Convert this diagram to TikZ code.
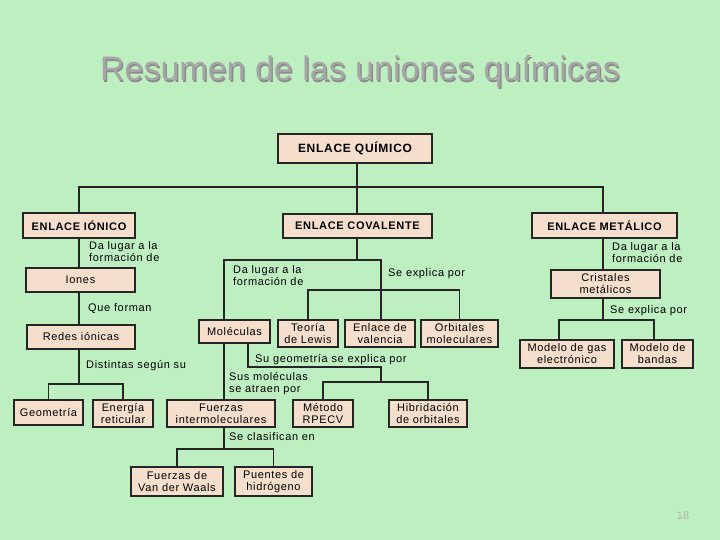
\documentclass[tikz,border=0pt]{standalone}
\usepackage{fontspec}
\setmainfont{Liberation Sans}
\newfontfamily\spc[LetterSpace=6]{Liberation Sans}
\begin{document}
\begin{tikzpicture}[x=1pt,y=-1pt,
  bx/.style={draw=black!85,line width=1.3pt,fill=boxc,inner sep=0pt,align=center,font=\spc\fontsize{11}{12}\selectfont},
  hd/.style={bx,font=\spc\bfseries\fontsize{11}{12}\selectfont},
  lb/.style={anchor=north west,inner sep=0pt,align=left,font=\spc\fontsize{11}{12}\selectfont},
  ln/.style={line width=1.3pt,draw=black!85}]
\definecolor{bg}{HTML}{BEEFC0}
\definecolor{boxc}{HTML}{F5DFCC}
\fill[bg] (0,0) rectangle (720,540);
\useasboundingbox (0,0) rectangle (720,540);
\node[text=black!45,font=\fontsize{34}{36}\selectfont] (tshadow) at (361.3,73.3) {Resumen de las uniones químicas};
\node[text=gray!70,font=\fontsize{34}{36}\selectfont] (title) at (360,72) {Resumen de las uniones químicas};
\newcommand\bxat[6]{\node[#1,minimum width=#4,minimum height=#5] (#2) at (#3) {#6};}
\bxat{bx}{q}{355,148.5}{154}{29}{\spc\bfseries\fontsize{12}{13}\selectfont ENLACE QUÍMICO}
\bxat{hd}{ion}{79,225.5}{112}{25}{ENLACE IÓNICO}
\bxat{hd}{cov}{357.5,226}{149}{24}{ENLACE COVALENTE}
\bxat{hd}{met}{604.5,225.5}{145}{25}{ENLACE METÁLICO}
\bxat{bx}{ionesb}{80.5,280}{109}{24}{Iones}
\bxat{bx}{redes}{81,337}{108}{24}{Redes iónicas}
\bxat{bx}{geo}{48.5,412.5}{69}{25}{Geometría}
\bxat{bx}{ener}{123,413.5}{60}{27}{Energía\\reticular}
\bxat{bx}{mol}{234.5,331.5}{71}{23}{Moléculas}
\bxat{bx}{lewis}{308,333.5}{60}{27}{Teoría\\de Lewis}
\bxat{bx}{val}{380,333.5}{70}{27}{Enlace de\\valencia}
\bxat{bx}{orb}{459.5,333.5}{77}{27}{Orbitales\\moleculares}
\bxat{bx}{fint}{221,413.5}{108}{27}{Fuerzas\\intermoleculares}
\bxat{bx}{rpecv}{323,413.5}{60}{27}{Método\\RPECV}
\bxat{bx}{hib}{428,413.5}{78}{27}{Hibridación\\de orbitales}
\bxat{bx}{vdw}{177,481.5}{92}{29}{Fuerzas de\\Van der Waals}
\bxat{bx}{ph}{273.5,481.5}{77}{29}{Puentes de\\hidrógeno}
\bxat{bx}{cris}{605.5,284}{109}{28}{Cristales\\metálicos}
\bxat{bx}{gas}{567,354}{94}{28}{Modelo de gas\\electrónico}
\bxat{bx}{band}{657.5,354}{71}{28}{Modelo de\\bandas}
% connectors
\coordinate (j1) at (357,187);
\draw[ln] (q.south-|j1) -- (cov.north-|j1);
\draw[ln] (ion.north) |- (j1) -| (met.north-|603,0);
\draw[ln] (ion.south) -- (ion.south|-ionesb.north);
\draw[ln] (ionesb.south-|ion.south) -- (redes.north-|ion.south);
\coordinate (j2) at (79,384);
\draw[ln] (redes.south-|j2) -- (j2);
\draw[ln] (geo.north) |- (j2) -| (ener.north);
\coordinate (j3) at (357,260);
\draw[ln] (cov.south-|j3) -- (j3) -| (mol.north-|224,0);
\coordinate (j4) at (381,290);
\draw[ln] (j3) -- (381,260) -- (val.north-|j4);
\draw[ln] (lewis.north) |- (j4) -| (orb.north);
\coordinate (j5) at (381,367);
\coordinate (j5b) at (381,382);
\draw[ln] (mol.south-|248,0) |- (j5) -- (j5b);
\draw[ln] (rpecv.north) |- (j5b) -| (hib.north);
\draw[ln] (mol.south-|224,0) -- (fint.north-|224,0);
\coordinate (j6) at (224,449);
\draw[ln] (fint.south-|j6) -- (j6);
\draw[ln] (vdw.north) |- (j6) -| (ph.north);
\draw[ln] (met.south-|603,0) -- (cris.north-|603,0);
\coordinate (j7) at (603,320);
\draw[ln] (cris.south-|j7) -- (j7);
\draw[ln] (gas.north-|559,0) |- (j7) -| (band.north-|654,0);
% labels
\node[lb] (l1) at (89,241) {Da lugar a la\\formación de};
\node[lb] (l2) at (88,303) {Que forman};
\node[lb] (l3) at (86,360) {Distintas según su};
\node[lb] (l4) at (233,265) {Da lugar a la\\formación de};
\node[lb] (l5) at (388,268) {Se explica por};
\node[lb] (l6) at (255,354) {Su geometría se explica por};
\node[lb] (l7) at (229,372) {Sus moléculas\\se atraen por};
\node[lb] (l8) at (229,432) {Se clasifican en};
\node[lb] (l9) at (612,242) {Da lugar a la\\formación de};
\node[lb] (l10) at (610,305) {Se explica por};
\node[text=gray!60,font=\fontsize{11}{12}\selectfont] (pg) at (683,516) {18};
\end{tikzpicture}
\end{document}
